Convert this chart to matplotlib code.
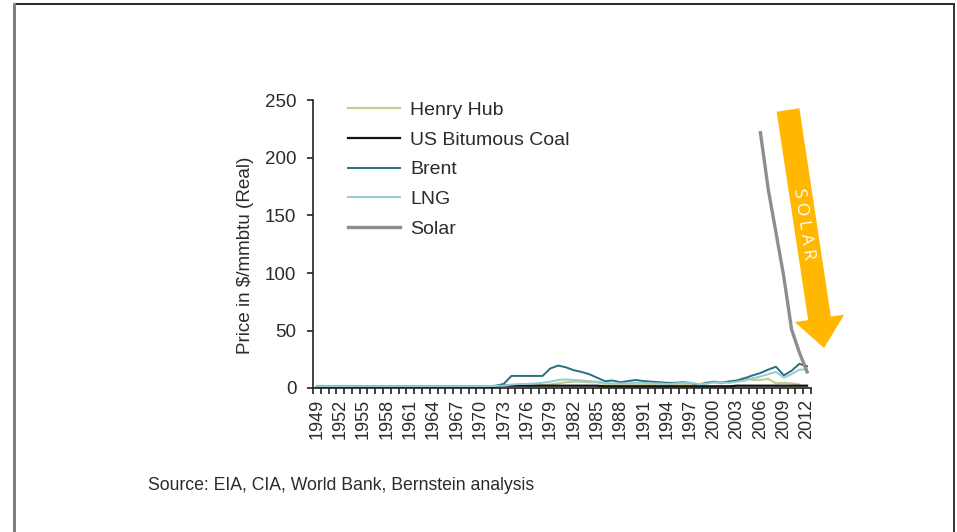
import matplotlib

matplotlib.use("Agg")
import matplotlib.pyplot as plt
from matplotlib.patches import FancyArrow

plt.rcParams["font.family"] = ["Liberation Sans", "DejaVu Sans"]

years = list(range(1949, 2013))
tick_years = list(range(1949, 2013, 3))

henry_hub = [None] * 27 + [
    2.0, 2.2, 2.5, 3.0, 4.0, 5.0, 5.5, 5.5, 5.0, 5.0,
    3.5, 2.8, 2.7, 2.8, 2.5, 2.6, 2.8, 2.7, 2.6, 3.0, 3.0, 2.6, 2.8,
    5.0, 5.0, 4.0, 6.0, 6.5, 9.0, 7.0, 7.0, 8.0, 4.0, 4.5, 4.0, 3.0,
]
coal = (
    [1.0] * 24
    + [2.0] * 13
    + [1.5] * 17
    + [2.0] * 10
)
brent = [
    1.8, 1.8, 1.8, 1.8, 1.8, 1.8, 1.7, 1.7, 1.7, 1.6, 1.6, 1.6,
    1.5, 1.5, 1.5, 1.5, 1.4, 1.4, 1.4, 1.4, 1.4, 1.4, 1.6, 2.0,
    3.5, 10.5, 10.5, 10.5, 10.5, 10.5, 17.0, 19.5, 18.0, 15.5, 14.0, 12.0,
    9.0, 6.0, 6.5, 5.0, 6.0, 7.0, 6.0, 5.5, 5.0, 4.5, 4.5, 5.0, 4.5,
    3.0, 4.0, 5.5, 5.0, 5.5, 6.5, 8.5, 11.0, 13.0, 16.0, 18.5, 11.0,
    15.0, 21.0, 19.0,
]
lng = [
    1.6, 1.6, 1.6, 1.6, 1.6, 1.6, 1.6, 1.6, 1.6, 1.6, 1.6, 1.6,
    1.6, 1.6, 1.6, 1.6, 1.6, 1.6, 1.6, 1.6, 1.6, 1.6, 1.7, 1.8,
    2.0, 3.0, 3.5, 3.5, 4.0, 4.5, 5.5, 7.0, 7.5, 7.0, 6.5, 6.0,
    5.5, 4.5, 4.0, 4.0, 4.0, 4.5, 4.5, 4.0, 4.0, 3.5, 4.0, 4.5, 4.5,
    3.5, 3.5, 5.0, 5.0, 4.5, 5.5, 6.5, 8.5, 10.0, 12.0, 14.0, 9.0,
    12.0, 16.0, 16.0,
]
solar = [None] * 57 + [222, 173, 135, 97, 51, 31, 14]

series = [
    ("Henry Hub", henry_hub, "#c6cd92", 1.6),
    ("US Bitumous Coal", coal, "#111111", 1.6),
    ("Brent", brent, "#2a6f7d", 1.4),
    ("LNG", lng, "#95cad9", 1.4),
    ("Solar", solar, "#8e8e8e", 2.4),
]

text_color = "#2b2b2b"

fig = plt.figure(figsize=(9.57, 5.32), dpi=100)
ax = fig.add_axes([313 / 957, 1 - 388 / 532, 498 / 957, 287.5 / 532])

xs = list(range(len(years)))
for label, values, color, width in series:
    pts = [(x, v) for x, v in zip(xs, values) if v is not None]
    ax.plot([p[0] for p in pts], [p[1] for p in pts], color=color, lw=width, label=label)

ax.set_xlim(-0.5, len(years) - 0.5)
ax.set_ylim(0, 250)
ax.set_yticks([0, 50, 100, 150, 200, 250])
ax.set_xticks([years.index(y) for y in tick_years])
ax.set_xticklabels([str(y) for y in tick_years], rotation=90)
ax.set_xticks([x - 0.5 for x in range(len(years) + 1)], minor=True)
ax.tick_params(axis="x", which="major", length=0, pad=8, labelsize=13, labelcolor=text_color)
ax.tick_params(axis="x", which="minor", length=4, width=1.2, color="#222222", direction="out")
ax.tick_params(axis="y", length=4, width=1.2, color="#222222", labelsize=13.5, labelcolor=text_color, pad=8)
for side in ("top", "right"):
    ax.spines[side].set_visible(False)
for side in ("left", "bottom"):
    ax.spines[side].set_color("#222222")
    ax.spines[side].set_linewidth(1.2)
ax.set_ylabel("Price in $/mmbtu (Real)", fontsize=13.6, color=text_color)
ax.yaxis.set_label_coords(-0.118, 0.46)

ax.legend(
    loc="upper left",
    bbox_to_anchor=(0.07, 0.998),
    frameon=False,
    fontsize=14,
    borderpad=0,
    borderaxespad=0,
    handlelength=2.7,
    handletextpad=0.5,
    labelspacing=0.63,
    labelcolor=text_color,
)

# overlay in pixel coordinates for frame, arrow and source note
over = fig.add_axes([0, 0, 1, 1], facecolor="none")
over.set_xlim(0, 957)
over.set_ylim(532, 0)
over.axis("off")
over.plot([14, 954], [4, 4], color="black", lw=1.2)
over.plot([14, 14], [4, 532], color="#808080", lw=2.2)
over.plot([954, 954], [4, 532], color="#333333", lw=1.4)

over.add_patch(
    FancyArrow(
        788, 110, 36, 238,
        width=23, head_width=50, head_length=30,
        length_includes_head=True, color="#ffb700", lw=0,
    )
)
over.text(
    803, 224, "S O L A R", color="white", fontsize=12.5,
    family=["Open Sans", "DejaVu Sans"],
    rotation=-81.4, ha="center", va="center", rotation_mode="anchor",
)
over.text(148, 486, "Source: EIA, CIA, World Bank, Bernstein analysis",
          fontsize=12.7, color=text_color, va="center")

fig.savefig("out.png", dpi=100)
